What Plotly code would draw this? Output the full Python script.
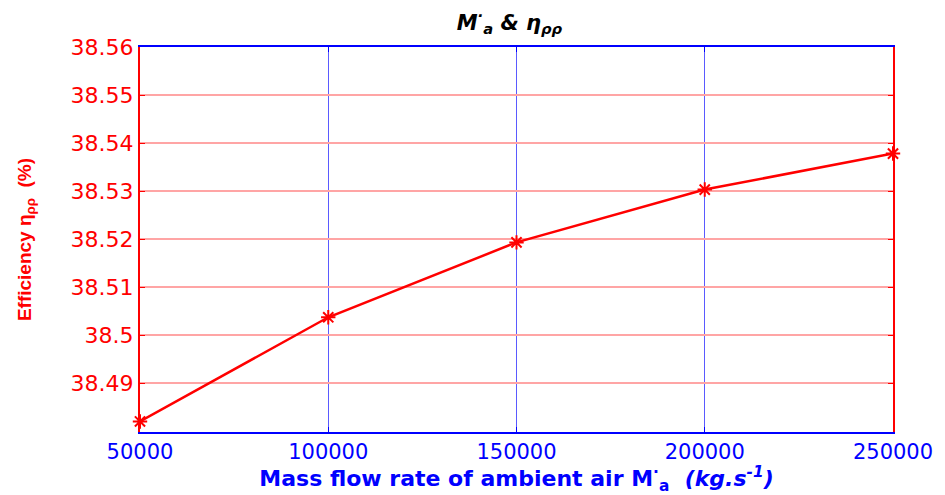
import plotly.graph_objects as go

mass_flow = [50000, 100000, 150000, 200000, 250000]
efficiency = [38.4820, 38.5037, 38.5193, 38.5303, 38.5378]
y_tick_vals = [38.49, 38.50, 38.51, 38.52, 38.53, 38.54, 38.55, 38.56]
y_tick_text = ["38.49", "38.5", "38.51", "38.52", "38.53", "38.54", "38.55", "38.56"]
x_tick_vals = [50000, 100000, 150000, 200000, 250000]
x_tick_text = ["50000", "100000", "150000", "200000", "250000"]

fig = go.Figure()
fig.add_trace(go.Scatter(
    x=mass_flow, y=efficiency, mode="lines+markers",
    line=dict(color="#FF0000", width=2.5),
    marker=dict(symbol="asterisk-open", size=12, color="#FF0000",
                line=dict(color="#FF0000", width=2)),
    cliponaxis=False, showlegend=False,
))

fig.update_layout(
    template="none",
    width=945, height=495,
    margin=dict(l=140, r=52, t=47, b=63),
    paper_bgcolor="white", plot_bgcolor="white",
    font=dict(family="DejaVu Sans, sans-serif"),
    title=dict(
        text="<b><i>M<sup>·</sup><sub>a</sub> & η<sub>ρρ</sub></i></b>",
        x=0.539, xanchor="center", y=0.955, yanchor="middle",
        font=dict(size=21, color="black", family="DejaVu Sans"),
    ),
    xaxis=dict(
        range=[50000, 250000], tickvals=x_tick_vals, ticktext=x_tick_text,
        showgrid=True, gridcolor="rgb(90,90,255)", gridwidth=1.2,
        showline=True, linecolor="#0000FF", linewidth=2, mirror="ticks",
        ticks="inside", ticklen=5, tickcolor="#0000FF",
        tickfont=dict(size=21, color="#0000FF", family="DejaVu Sans"), zeroline=False,
        title=dict(
            text="<b>Mass flow rate of ambient air M<sup>·</sup><sub>a</sub>  <i>(kg.s<sup>-1</sup>)</i></b>",
            font=dict(size=22, color="#0000FF", family="DejaVu Sans"), standoff=2,
        ),
    ),
    yaxis=dict(
        range=[38.4798, 38.56], tickvals=y_tick_vals, ticktext=y_tick_text,
        showgrid=True, gridcolor="rgb(255,165,165)", gridwidth=2,
        showline=True, linecolor="#FF0000", linewidth=2, mirror="ticks",
        ticks="inside", ticklen=5, tickcolor="#FF0000",
        tickfont=dict(size=22, color="#FF0000", family="DejaVu Sans"), zeroline=False,
        title=dict(
            text="<b>Efficiency η<sub>ρρ</sub>  (%)</b>",
            font=dict(size=19, color="#FF0000", family="Liberation Sans"), standoff=34,
        ),
    ),
)

fig.write_html("out.html")
